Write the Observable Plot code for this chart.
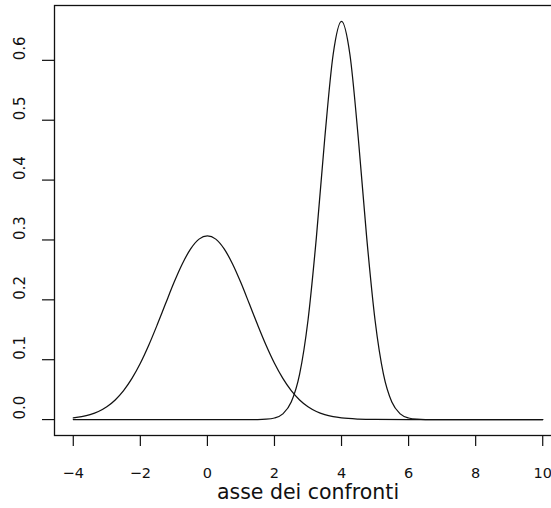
<!DOCTYPE html>
<html>
<head>
<meta charset="utf-8">
<script src="https://cdn.jsdelivr.net/npm/d3@7"></script>
<script src="https://cdn.jsdelivr.net/npm/@observablehq/plot@0.6"></script>
<style>
  html, body { margin: 0; padding: 0; background: white; overflow: hidden; }
  svg { overflow: hidden; }
</style>
</head>
<body>
<div id="chart"></div>
<script>
const xTicks = [-4, -2, 0, 2, 4, 6, 8, 10];
const yTicks = [0, 0.1, 0.2, 0.3, 0.4, 0.5, 0.6];
const yTickLabels = ["0.0", "0.1", "0.2", "0.3", "0.4", "0.5", "0.6"];
const xLabel = "asse dei confronti";

// wide curve (centred at 0)
const wideX = [-4, -3.75, -3.5, -3.25, -3, -2.75, -2.5, -2.25, -2, -1.75, -1.5, -1.25, -1, -0.75, -0.5, -0.25,
  0, 0.25, 0.5, 0.75, 1, 1.25, 1.5, 1.75, 2, 2.25, 2.5, 2.75, 3, 3.25, 3.5, 3.75, 4, 4.5, 5, 6, 10];
const wideY = [0.0027, 0.0048, 0.0082, 0.0135, 0.0214, 0.0328, 0.0483, 0.0687, 0.0940, 0.1241, 0.1578, 0.1933, 0.2284, 0.2599, 0.2851, 0.3014,
  0.3070, 0.3014, 0.2851, 0.2599, 0.2284, 0.1933, 0.1578, 0.1241, 0.0940, 0.0687, 0.0483, 0.0328, 0.0214, 0.0135, 0.0082, 0.0048, 0.0027, 0.0008, 0.0002, 0, 0];

// narrow curve (centred at 4)
const narrowX = [-4, 1, 1.5, 1.75, 2, 2.25, 2.5, 2.75, 3, 3.25, 3.5, 3.75, 4, 4.25, 4.5, 4.75, 5, 5.25, 5.5, 5.75, 6, 6.25, 6.5, 7, 10];
const narrowY = [0, 0, 0.0001, 0.0006, 0.0026, 0.0095, 0.0292, 0.0759, 0.1659, 0.3044, 0.4699, 0.6097, 0.665, 0.6097, 0.4699, 0.3044, 0.1659, 0.0759, 0.0292, 0.0095, 0.0026, 0.0006, 0.0001, 0, 0];

const wide = wideX.map((x, i) => ({x, y: wideY[i]}));
const narrow = narrowX.map((x, i) => ({x, y: narrowY[i]}));

const ink = "#111";
const chart = Plot.plot({
  width: 551,
  height: 508,
  marginLeft: 54,
  marginRight: -10,
  marginTop: 5,
  marginBottom: 73,
  style: {fontFamily: "DejaVu Sans", fontSize: "15px", background: "white", color: ink, overflow: "hidden"},
  x: {domain: [-4.56, 10.56]},
  y: {domain: [-0.0266, 0.6916]},
  marks: [
    Plot.frame({stroke: ink, strokeWidth: 1.3}),
    Plot.line(wide, {x: "x", y: "y", curve: "monotone-x", stroke: ink, strokeWidth: 1.25}),
    Plot.line(narrow, {x: "x", y: "y", curve: "monotone-x", stroke: ink, strokeWidth: 1.25}),
    Plot.axisX({ticks: xTicks, tickSize: 11, tickPadding: 21, label: null, fontSize: 14.5, stroke: ink, strokeWidth: 1.2}),
    Plot.axisY({ticks: yTicks, tickSize: 12, tickFormat: () => "", label: null, stroke: ink, strokeWidth: 1.2}),
    Plot.text(yTicks, {y: d => d, text: (d, i) => yTickLabels[i], frameAnchor: "left", dx: -34, rotate: -90, fontSize: 15, fill: ink}),
    Plot.text([xLabel], {frameAnchor: "bottom", dy: 63, fontSize: 20.5, fill: ink})
  ]
});
document.getElementById("chart").appendChild(chart);
</script>
</body>
</html>
